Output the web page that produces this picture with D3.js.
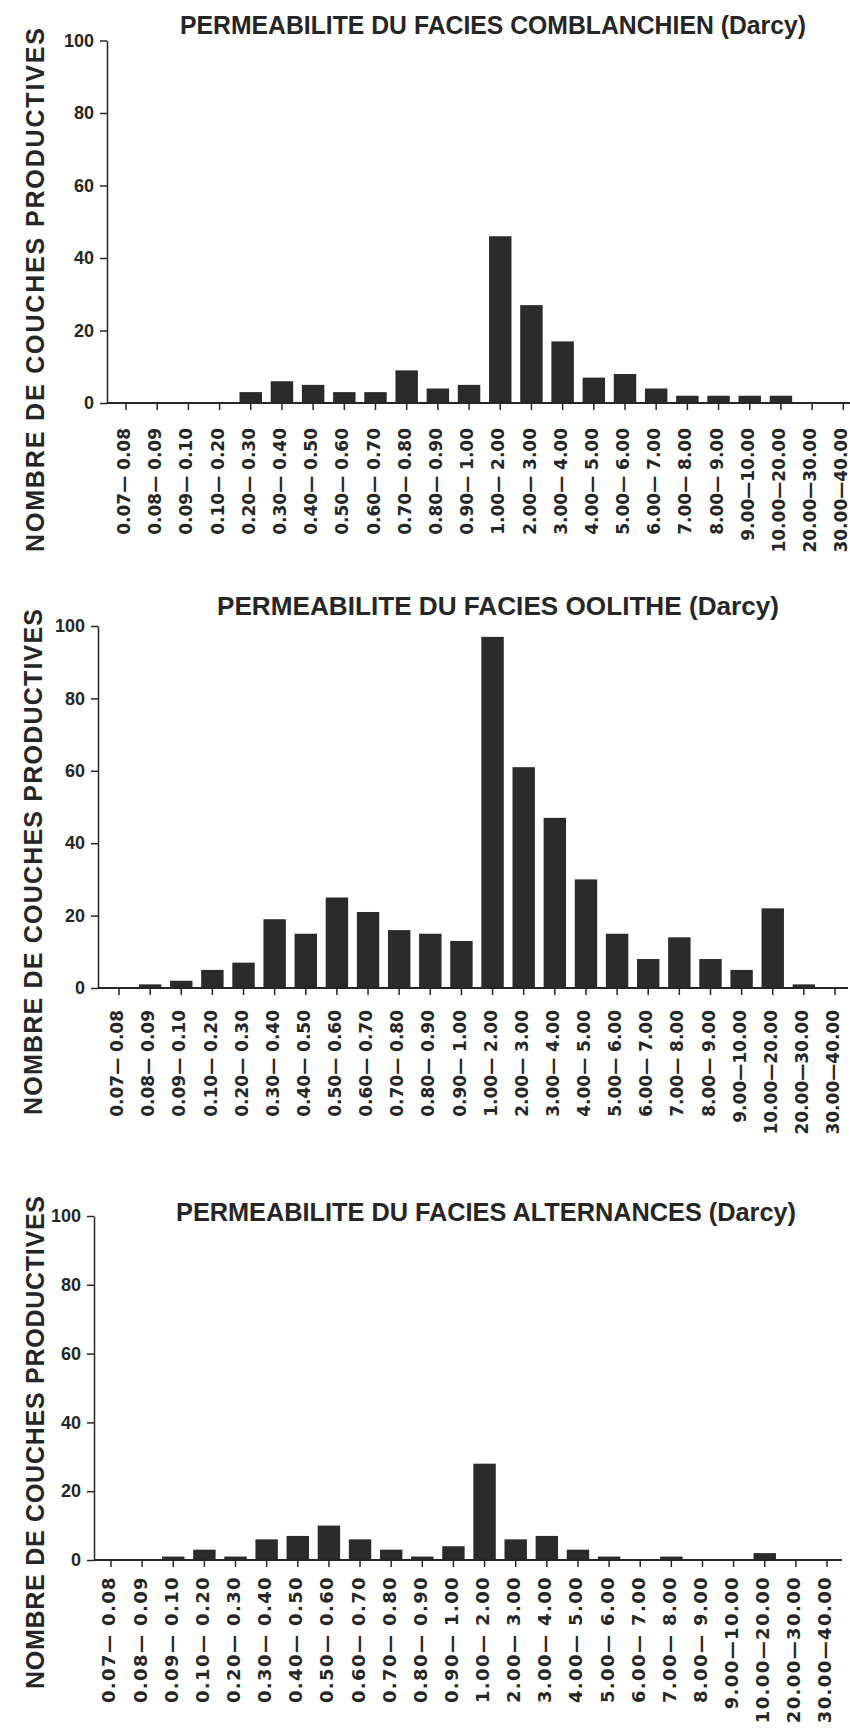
<!DOCTYPE html>
<html>
<head>
<meta charset="utf-8">
<script src="https://cdn.jsdelivr.net/npm/d3@7"></script>
<style>
  html, body { margin: 0; padding: 0; background: #fff; }
  svg { display: block; }
</style>
</head>
<body>
<svg id="chart" width="850" height="1730"></svg>
<script>
// Permeability classes (Darcy)
const categories = [
  "0.07\u2014 0.08", "0.08\u2014 0.09", "0.09\u2014 0.10", "0.10\u2014 0.20",
  "0.20\u2014 0.30", "0.30\u2014 0.40", "0.40\u2014 0.50", "0.50\u2014 0.60",
  "0.60\u2014 0.70", "0.70\u2014 0.80", "0.80\u2014 0.90", "0.90\u2014 1.00",
  "1.00\u2014 2.00", "2.00\u2014 3.00", "3.00\u2014 4.00", "4.00\u2014 5.00",
  "5.00\u2014 6.00", "6.00\u2014 7.00", "7.00\u2014 8.00", "8.00\u2014 9.00",
  "9.00\u201410.00", "10.00\u201420.00", "20.00\u201430.00", "30.00\u201440.00"
];

// Number of productive layers per class, one array per facies
const comblanchien = [0, 0, 0, 0, 3, 6, 5, 3, 3, 9, 4, 5, 46, 27, 17, 7, 8, 4, 2, 2, 2, 2, 0, 0];
const oolithe      = [0, 1, 2, 5, 7, 19, 15, 25, 21, 16, 15, 13, 97, 61, 47, 30, 15, 8, 14, 8, 5, 22, 1, 0];
const alternances  = [0, 0, 1, 3, 1, 6, 7, 10, 6, 3, 1, 4, 28, 6, 7, 3, 1, 0, 1, 0, 0, 2, 0, 0];

const yTicks = [0, 20, 40, 60, 80, 100];
const yTitle = "NOMBRE DE COUCHES PRODUCTIVES";
const titles = [
  "PERMEABILITE DU FACIES COMBLANCHIEN (Darcy)",
  "PERMEABILITE DU FACIES OOLITHE (Darcy)",
  "PERMEABILITE DU FACIES ALTERNANCES (Darcy)"
];
const seriesList = [comblanchien, oolithe, alternances];

// Panel geometry
const layout = [
  { axisX: 107, xFirst: 126, xLast: 843.3, yTop: 40.5, yBase: 403, lineEnd: 850,
    titleX: 180, titleW: 626, titleY: 34, yTitleX: 35, yTitleTop: 28, yTitleBottom: 552,
    labelOffset: 25, labelSize: 17, labelSpacing: 0 },
  { axisX: 98, xFirst: 119, xLast: 835, yTop: 626, yBase: 988, lineEnd: 848,
    titleX: 217, titleW: 562, titleY: 615, yTitleX: 33, yTitleTop: 609, yTitleBottom: 1115,
    labelOffset: 22, labelSize: 17, labelSpacing: 0 },
  { axisX: 94, xFirst: 111, xLast: 827, yTop: 1216, yBase: 1560, lineEnd: 842,
    titleX: 176, titleW: 620, titleY: 1221, yTitleX: 35, yTitleTop: 1196, yTitleBottom: 1689,
    labelOffset: 16, labelSize: 18, labelSpacing: 1.4 }
];

const ink = "#262626";
const svg = d3.select("#chart");

layout.forEach((L, i) => {
  const values = seriesList[i];
  const g = svg.append("g");
  const step = (L.xLast - L.xFirst) / (categories.length - 1);

  const x = d3.scaleBand()
    .domain(categories)
    .range([L.xFirst - step / 2, L.xLast + step / 2])
    .paddingInner(0.28)
    .paddingOuter(0.14);

  const y = d3.scaleLinear().domain([0, 100]).range([L.yBase, L.yTop]);

  // Title
  g.append("text")
    .attr("x", L.titleX)
    .attr("y", L.titleY)
    .attr("textLength", L.titleW)
    .attr("lengthAdjust", "spacingAndGlyphs")
    .style("font-family", "'Liberation Sans Narrow', 'Liberation Sans', Arial, sans-serif")
    .style("font-weight", "bold")
    .style("font-size", "26px")
    .style("fill", ink)
    .text(titles[i]);

  // Vertical axis title
  const yMid = (L.yTitleTop + L.yTitleBottom) / 2;
  g.append("text")
    .attr("transform", `translate(${L.yTitleX},${yMid}) rotate(-90)`)
    .attr("text-anchor", "middle")
    .attr("dy", "0.36em")
    .attr("textLength", L.yTitleBottom - L.yTitleTop)
    .attr("lengthAdjust", "spacing")
    .style("font-family", "'Liberation Sans', Arial, sans-serif")
    .style("font-weight", "bold")
    .style("font-size", "25px")
    .style("fill", ink)
    .text(yTitle);

  // Bars
  g.append("g")
    .selectAll("rect")
    .data(values)
    .join("rect")
    .attr("x", (d, k) => x(categories[k]))
    .attr("width", x.bandwidth())
    .attr("y", d => y(d))
    .attr("height", d => L.yBase - y(d))
    .attr("fill", "#2b2b2b");

  // Y axis
  const yAxis = g.append("g")
    .attr("transform", `translate(${L.axisX},0)`)
    .call(d3.axisLeft(y).tickValues(yTicks).tickSize(7).tickSizeOuter(0).tickPadding(6));
  yAxis.select(".domain").attr("stroke", ink).attr("stroke-width", 1.5);
  yAxis.selectAll(".tick line").attr("stroke", ink).attr("stroke-width", 1.5);
  yAxis.selectAll(".tick text")
    .style("font-family", "'Liberation Sans Narrow', 'Liberation Sans', Arial, sans-serif")
    .style("font-weight", "bold")
    .style("font-size", "18px")
    .style("fill", ink);

  // Baseline
  g.append("line")
    .attr("x1", L.axisX).attr("x2", L.lineEnd)
    .attr("y1", y(0)).attr("y2", y(0))
    .attr("stroke", ink).attr("stroke-width", 2);

  // X axis ticks and rotated class labels
  const xAxis = g.append("g")
    .attr("transform", `translate(0,${L.yBase})`)
    .call(d3.axisBottom(x).tickSize(7).tickSizeOuter(0));
  xAxis.select(".domain").remove();
  xAxis.selectAll(".tick line").attr("stroke", ink).attr("stroke-width", 1.5);
  xAxis.selectAll(".tick text")
    .attr("transform", "rotate(-90)")
    .attr("x", -L.labelOffset)
    .attr("y", -2)
    .attr("dy", "0.36em")
    .style("text-anchor", "end")
    .style("white-space", "pre")
    .style("letter-spacing", L.labelSpacing + "px")
    .style("font-family", "'DejaVu Sans', sans-serif")
    .style("font-weight", "bold")
    .style("font-size", L.labelSize + "px")
    .style("fill", ink);
});
</script>
</body>
</html>
